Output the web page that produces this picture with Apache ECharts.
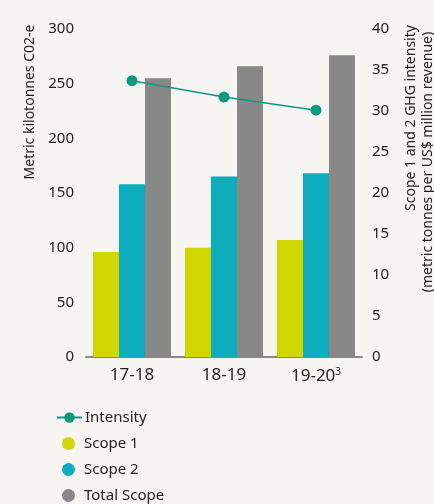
<!DOCTYPE html>
<html><head><meta charset="utf-8">
<script src="https://cdn.jsdelivr.net/npm/echarts@6/dist/echarts.min.js"></script>
<style>html,body{margin:0;padding:0;background:#f6f5f2;}#c{width:434px;height:504px;}</style>
</head><body><div id="c"></div>
<script>
const categories = ['17-18', '18-19', '19-20'];
const scope1 = [96, 100, 107];
const scope2 = [158, 165, 168];
const totalScope = [255, 266, 276];
const intensity = [33.7, 31.7, 30.1];
const leftTicks = [0, 50, 100, 150, 200, 250, 300];
const rightTicks = [0, 5, 10, 15, 20, 25, 30, 35, 40];
const legendNames = ['Intensity', 'Scope 1', 'Scope 2', 'Total Scope'];

const FONT = 'Noto Sans';
const legendTops = [410, 436, 462, 488];
const legends = legendNames.map((n, i) => (i === 0 ? {
  left: 56, top: legendTops[i], itemWidth: 25, itemHeight: 13, padding: 0, selectedMode: false,
  textStyle: { fontFamily: FONT, fontSize: 15, color: '#222', padding: [0, 0, 0, -2] },
  data: [{ name: n }]
} : {
  left: 62, top: legendTops[i], itemWidth: 13, itemHeight: 13, padding: 0, selectedMode: false,
  textStyle: { fontFamily: FONT, fontSize: 15, color: '#222', padding: [0, 0, 0, 4] },
  data: [{ name: n, icon: 'circle' }]
}));

const chart = echarts.init(document.getElementById('c'));
chart.setOption({
  backgroundColor: '#f6f5f2',
  textStyle: { fontFamily: FONT, color: '#222' },
  grid: { left: 86, right: 72, top: 29, bottom: 147 },
  legend: legends,
  xAxis: {
    type: 'category', data: categories,
    axisLine: { lineStyle: { color: '#888', width: 2 } },
    axisTick: { show: false },
    axisLabel: {
      interval: 0, hideOverlap: false,
      fontSize: 17, color: '#222', margin: 10,
      formatter: (v, i) => i === 2 ? v + '{sup|3}' : v,
      rich: { sup: { fontSize: 10, verticalAlign: 'top', padding: [0, 0, 8, 0], color: '#222' } }
    }
  },
  yAxis: [
    {
      type: 'value', min: leftTicks[0], max: leftTicks[leftTicks.length - 1], interval: 50,
      axisLine: { show: false }, axisTick: { show: false }, splitLine: { show: false },
      axisLabel: { fontSize: 15, color: '#222', margin: 12 }
    },
    {
      type: 'value', min: rightTicks[0], max: rightTicks[rightTicks.length - 1], interval: 5,
      axisLine: { show: false }, axisTick: { show: false }, splitLine: { show: false },
      axisLabel: { fontSize: 15, color: '#222', margin: 10 }
    }
  ],
  graphic: [
    { type: 'text', x: 30, y: 102, rotation: Math.PI / 2,
      style: { text: 'Metric kilotonnes C02-e', font: '14px "Noto Sans"', fill: '#222', align: 'center', verticalAlign: 'middle' } },
    { type: 'text', x: 411, y: 118, rotation: Math.PI / 2,
      style: { text: 'Scope 1 and 2 GHG intensity', font: '14px "Noto Sans"', fill: '#222', align: 'center', verticalAlign: 'middle' } },
    { type: 'text', x: 428, y: 162, rotation: Math.PI / 2,
      style: { text: '(metric tonnes per US$ million revenue)', font: '14px "Noto Sans"', fill: '#222', align: 'center', verticalAlign: 'middle' } }
  ],
  series: [
    { name: 'Scope 1', type: 'bar', data: scope1, barWidth: 26, barGap: '0%', itemStyle: { color: '#d1d500' } },
    { name: 'Scope 2', type: 'bar', data: scope2, barWidth: 26, barGap: '0%', itemStyle: { color: '#0eadbe' } },
    { name: 'Total Scope', type: 'bar', data: totalScope, barWidth: 26, barGap: '0%', itemStyle: { color: '#888888' } },
    { name: 'Intensity', type: 'line', yAxisIndex: 1, data: intensity, symbol: 'circle', symbolSize: 11,
      lineStyle: { color: '#0a9a82', width: 1.5 }, itemStyle: { color: '#0a9a82' }, z: 5 }
  ]
});
</script></body></html>
